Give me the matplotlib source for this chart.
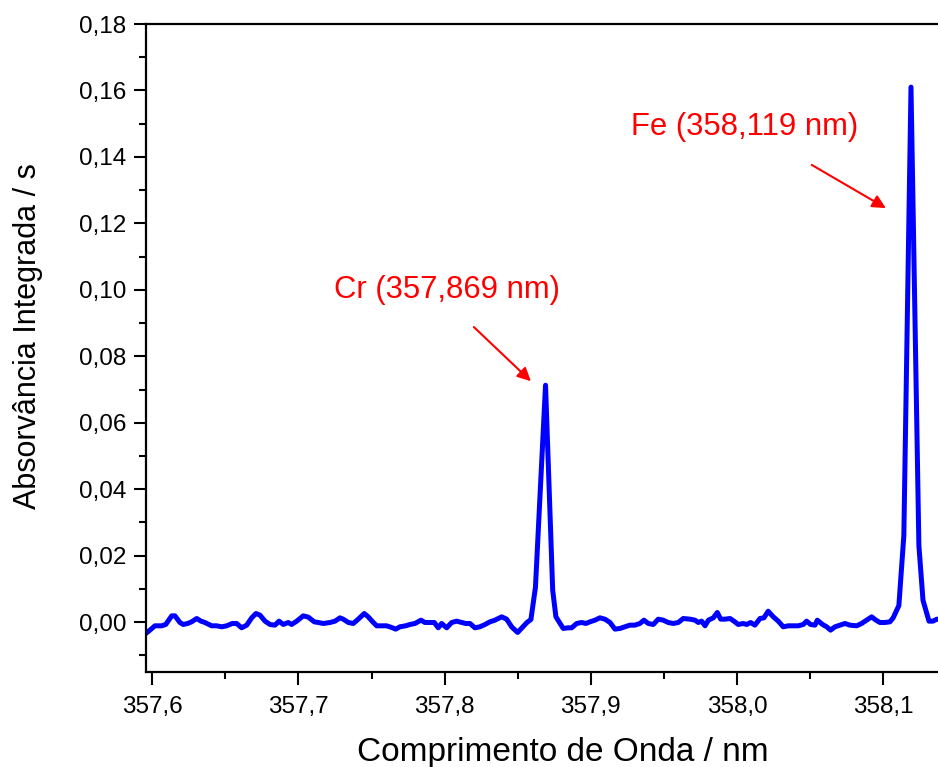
import matplotlib
matplotlib.use("Agg")
import matplotlib.pyplot as plt
from matplotlib.ticker import MultipleLocator, FuncFormatter

plt.rcParams['font.family'] = ['Liberation Sans', 'DejaVu Sans']

# Wavelength (nm)
wavelength = [
    357.5950, 357.5984, 357.6018, 357.6064, 357.6092, 357.6133, 357.6155, 357.6189,
    357.6212, 357.6242, 357.6269, 357.6304, 357.6333, 357.6360, 357.6406, 357.6440,
    357.6475, 357.6509, 357.6547, 357.6577, 357.6611, 357.6646, 357.6680, 357.6709,
    357.6737, 357.6771, 357.6805, 357.6839, 357.6867, 357.6896, 357.6930, 357.6953,
    357.6988, 357.7033, 357.7067, 357.7108, 357.7135, 357.7170, 357.7216, 357.7250,
    357.7284, 357.7306, 357.7341, 357.7375, 357.7409, 357.7450, 357.7477, 357.7512,
    357.7535, 357.7569, 357.7603, 357.7637, 357.7665, 357.7694, 357.7733, 357.7763,
    357.7797, 357.7838, 357.7865, 357.7899, 357.7929, 357.7956, 357.7979, 357.8014,
    357.8048, 357.8082, 357.8116, 357.8144, 357.8173, 357.8207, 357.8241, 357.8276,
    357.8310, 357.8344, 357.8390, 357.8424, 357.8458, 357.8499, 357.8529, 357.8563,
    357.8590, 357.8621, 357.8690, 357.8739, 357.8761, 357.8811, 357.8845, 357.8869,
    357.8903, 357.8937, 357.8966, 357.8994, 357.9028, 357.9062, 357.9096, 357.9131,
    357.9165, 357.9199, 357.9233, 357.9267, 357.9301, 357.9336, 357.9363, 357.9393,
    357.9427, 357.9461, 357.9495, 357.9529, 357.9564, 357.9598, 357.9632, 357.9678,
    357.9712, 357.9735, 357.9758, 357.9781, 357.9804, 357.9838, 357.9865, 357.9888,
    357.9917, 357.9952, 357.9979, 358.0008, 358.0042, 358.0066, 358.0093, 358.0122,
    358.0157, 358.0184, 358.0213, 358.0248, 358.0282, 358.0316, 358.0350, 358.0384,
    358.0419, 358.0453, 358.0476, 358.0503, 358.0533, 358.0549, 358.0585, 358.0613,
    358.0640, 358.0670, 358.0704, 358.0738, 358.0772, 358.0818, 358.0852, 358.0886,
    358.0921, 358.0950, 358.0977, 358.1012, 358.1046, 358.1068, 358.1107, 358.1141,
    358.1190, 358.1244, 358.1272, 358.1313, 358.1340, 358.1367, 358.1400,
]

# Integrated absorbance (s)
absorbance = [
    -0.0036, -0.0024, -0.0011, -0.0011, -0.0007, 0.0019, 0.0019, -0.0001,
    -0.0007, -0.0004, 0.0001, 0.0011, 0.0003, -0.0001, -0.0011, -0.0011,
    -0.0014, -0.0011, -0.0004, -0.0004, -0.0017, -0.0009, 0.0013, 0.0026,
    0.0021, 0.0003, -0.0007, -0.0009, 0.0003, -0.0007, -0.0001, -0.0007,
    0.0003, 0.0019, 0.0015, 0.0001, -0.0001, -0.0004, -0.0001, 0.0003,
    0.0013, 0.0009, -0.0001, -0.0004, 0.0009, 0.0026, 0.0016, -0.0001,
    -0.0011, -0.0011, -0.0011, -0.0016, -0.0021, -0.0014, -0.0011, -0.0007,
    -0.0004, 0.0006, -0.0001, -0.0001, -0.0001, -0.0017, -0.0004, -0.0017,
    -0.0001, 0.0003, -0.0001, -0.0004, -0.0004, -0.0017, -0.0014, -0.0007,
    0.0001, 0.0006, 0.0016, 0.0009, -0.0014, -0.0031, -0.0017, -0.0001,
    0.0008, 0.0105, 0.0713, 0.0096, 0.0016, -0.0019, -0.0017, -0.0017,
    -0.0004, -0.0001, -0.0004, 0.0001, 0.0006, 0.0013, 0.0009, -0.0001,
    -0.0021, -0.0019, -0.0014, -0.0009, -0.0009, -0.0004, 0.0006, -0.0004,
    -0.0007, 0.0009, 0.0006, -0.0001, -0.0004, -0.0001, 0.0011, 0.0009,
    0.0006, -0.0001, 0.0003, -0.0011, 0.0006, 0.0013, 0.0029, 0.0009,
    0.0009, 0.0011, 0.0003, -0.0007, -0.0004, -0.0007, -0.0001, -0.0009,
    0.0011, 0.0013, 0.0033, 0.0016, 0.0003, -0.0014, -0.0011, -0.0011,
    -0.0011, -0.0007, 0.0003, -0.0007, -0.0009, 0.0006, -0.0007, -0.0014,
    -0.0024, -0.0014, -0.0009, -0.0004, -0.0009, -0.0011, -0.0004, 0.0006,
    0.0016, 0.0006, -0.0001, -0.0001, 0.0001, 0.0013, 0.0050, 0.0260,
    0.1610, 0.0230, 0.0066, 0.0003, 0.0003, 0.0009, 0.0009,
]

fig = plt.figure(figsize=(9.38, 7.67), dpi=100)
# The plot frame runs past the right edge of the canvas
ax = fig.add_axes([146 / 938, 95 / 767, (980 - 146) / 938, (672 - 24) / 767])

ax.plot(wavelength, absorbance, color='#0000ff', lw=3.6, solid_joinstyle='round',
        solid_capstyle='round')

ax.set_xlim(357.5957, 358.1662)
ax.set_ylim(-0.015, 0.18)

ax.xaxis.set_major_locator(MultipleLocator(0.1))
ax.xaxis.set_minor_locator(MultipleLocator(0.05))
ax.yaxis.set_major_locator(MultipleLocator(0.02))
ax.yaxis.set_minor_locator(MultipleLocator(0.01))

ax.xaxis.set_major_formatter(FuncFormatter(lambda v, p: f"{v:.1f}".replace('.', ',')))
ax.yaxis.set_major_formatter(FuncFormatter(lambda v, p: f"{v:.2f}".replace('.', ',')))

for side in ('left', 'bottom', 'top', 'right'):
    ax.spines[side].set_linewidth(1.6)

ax.tick_params(which='major', direction='out', length=9, width=1.5, labelsize=17.5,
               top=False, right=False)
ax.tick_params(axis='x', which='major', pad=8)
ax.tick_params(axis='y', which='major', pad=5)
ax.tick_params(which='minor', direction='out', length=4.8, width=1.5, top=False, right=False)

ax.set_xlabel('Comprimento de Onda / nm', fontsize=24, labelpad=14)
ax.set_ylabel('Absorvância Integrada / s', fontsize=22)
ax.yaxis.set_label_coords(-0.124, 0.518)

arrow_style = dict(arrowstyle='-|>', color='red', lw=1.5, mutation_scale=20,
                   shrinkA=0, shrinkB=0)
ax.annotate('', xy=(357.8590, 0.0725), xytext=(357.8200, 0.0888), arrowprops=arrow_style)
ax.annotate('', xy=(358.1018, 0.1246), xytext=(358.0511, 0.1376), arrowprops=arrow_style)
ax.text(357.8014, 0.0999, 'Cr (357,869 nm)', color='red', fontsize=22.3,
        ha='center', va='center')
ax.text(358.0054, 0.1490, 'Fe (358,119 nm)', color='red', fontsize=22.3,
        ha='center', va='center')

fig.savefig('out.png', dpi=100)
